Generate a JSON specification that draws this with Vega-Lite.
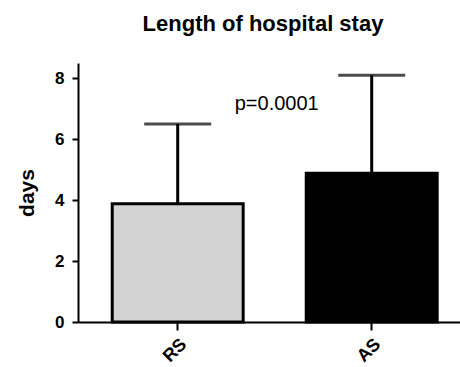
{
  "$schema": "https://vega.github.io/schema/vega-lite/v6.json",
  "autosize": "none",
  "padding": {"left": 78, "top": 63, "right": 0, "bottom": 45},
  "width": 382,
  "height": 259,
  "background": "white",
  "config": {
    "font": "Liberation Sans",
    "view": {"stroke": null},
    "axis": {
      "grid": false,
      "domainColor": "black",
      "domainWidth": 2,
      "tickColor": "black",
      "tickWidth": 2,
      "labelColor": "black",
      "labelFontWeight": "bold",
      "titleColor": "black",
      "titleFontWeight": "bold"
    }
  },
  "title": {
    "text": "Length of hospital stay",
    "fontSize": 22,
    "fontWeight": "bold",
    "color": "black",
    "anchor": "middle",
    "frame": "group",
    "offset": 27,
    "dx": -6
  },
  "data": {
    "values": [
      {"Group": "RS", "mean": 3.88, "upper": 6.5},
      {"Group": "AS", "mean": 4.88, "upper": 8.1}
    ]
  },
  "encoding": {
    "x": {
      "field": "Group",
      "type": "nominal",
      "sort": ["RS", "AS"],
      "scale": {"paddingInner": 0.325, "paddingOuter": 0.147, "align": 0.6},
      "axis": {
        "title": null,
        "labelAngle": -45,
        "labelFontSize": 18,
        "tickSize": 8,
        "labelPadding": 5
      }
    }
  },
  "layer": [
    {
      "mark": {"type": "bar", "stroke": "black", "strokeWidth": 3},
      "encoding": {
        "y": {
          "field": "mean",
          "type": "quantitative",
          "scale": {"domain": [0, 8.5], "nice": false},
          "axis": {
            "title": "days",
            "titleFontSize": 21,
            "titlePadding": 17,
            "labelFontSize": 17,
            "values": [0, 2, 4, 6, 8],
            "tickSize": 6,
            "labelPadding": 8
          }
        },
        "fill": {
          "field": "Group",
          "type": "nominal",
          "scale": {"domain": ["RS", "AS"], "range": ["#d3d3d3", "#000000"]},
          "legend": null
        }
      }
    },
    {
      "mark": {"type": "rule", "color": "black", "strokeWidth": 3},
      "encoding": {
        "y": {"field": "mean", "type": "quantitative"},
        "y2": {"field": "upper"}
      }
    },
    {
      "mark": {"type": "tick", "color": "black", "thickness": 3, "size": 67, "orient": "horizontal"},
      "encoding": {
        "y": {"field": "upper", "type": "quantitative"}
      }
    },
    {
      "data": {"values": [{"Group": "AS", "label": "p=0.0001", "pos": 7.17}]},
      "mark": {"type": "text", "fontSize": 20, "color": "black", "dx": -95, "align": "center", "baseline": "middle"},
      "encoding": {
        "y": {"field": "pos", "type": "quantitative"},
        "text": {"field": "label"}
      }
    }
  ]
}
